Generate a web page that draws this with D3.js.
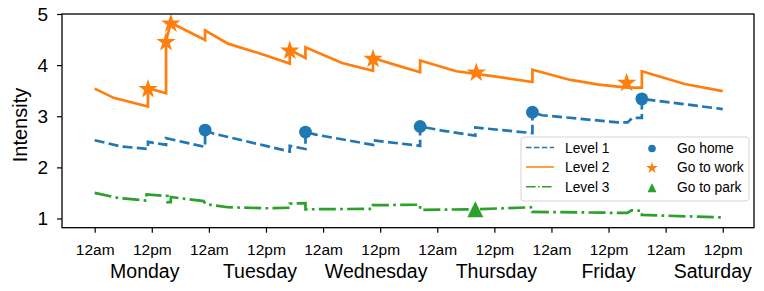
<!DOCTYPE html>
<html>
<head>
<meta charset="utf-8">
<script src="https://cdn.jsdelivr.net/npm/d3@7"></script>
<style>
  body { margin: 0; background: #fff; }
  text { font-family: "Liberation Sans", Arial, sans-serif; fill: #000; }
</style>
</head>
<body>
<svg id="chart" width="764" height="291"></svg>
<script>
// hours since Monday 12am
var level1 = [[0,2.53],[5.5,2.41],[11.2,2.36],[11.2,2.50],[15,2.44],[15,2.57],[23.2,2.40],[23.2,2.73],
  [25,2.66],[36,2.42],[41,2.31],[41,2.42],[44.3,2.36],[44.3,2.69],[46.5,2.64],[58.5,2.44],[58.5,2.53],
  [68.4,2.42],[68.4,2.80],[73,2.72],[80,2.62],[80,2.78],[92,2.67],[92,3.08],[94,3.02],[110,2.88],
  [112,2.88],[113,2.97],[115,2.97],[115,3.34],[117.5,3.31],[132,3.14]];
var level2 = [[0,3.54],[4,3.36],[11.2,3.19],[11.2,3.55],[15,3.45],[15,4.47],[16,4.83],[23.2,4.49],
  [23.2,4.68],[28,4.42],[36,4.19],[41,4.03],[41,4.30],[44.3,4.14],[44.3,4.35],[52,4.04],[58.5,3.89],
  [58.5,4.14],[63,4.01],[68.4,3.86],[68.4,4.09],[76,3.88],[84,3.78],[92,3.67],[92,3.91],[100,3.71],
  [106,3.62],[112,3.56],[115,3.56],[115,3.88],[124,3.63],[132,3.49]];
var level3 = [[0,1.50],[5,1.40],[10.9,1.35],[10.9,1.47],[15.3,1.44],[15.3,1.32],[16,1.32],[16,1.42],
  [22.9,1.34],[23.3,1.28],[28,1.22],[36,1.20],[41,1.21],[41,1.29],[44.3,1.30],[44.3,1.18],[58.5,1.19],
  [58.5,1.26],[68.4,1.27],[68.4,1.17],[80,1.18],[92,1.22],[92,1.13],[110,1.11],[112,1.11],[112.8,1.16],
  [115,1.15],[115,1.07],[132,1.02]];

var goHome = [[23.2,2.73],[44.3,2.69],[68.4,2.80],[92,3.08],[115,3.34]];
var goWork = [[11.2,3.55],[15,4.47],[16,4.83],[41,4.30],[58.5,4.14],[80.2,3.87],[111.8,3.67]];
var goPark = [[80,1.18]];

var tickHours = [0,12,24,36,48,60,72,84,96,108,120,132];
var tickLabels = ["12am","12pm","12am","12pm","12am","12pm","12am","12pm","12am","12pm","12am","12pm"];
var days = ["Monday","Tuesday","Wednesday","Thursday","Friday","Saturday"];
var dayHours = [12,36,60,84,108,132];
var dayShift = [-7,-6,-4,2,0,-10];
var yTicks = [1,2,3,4,5];

var blue = "#1f77b4", orange = "#ff7f0e", green = "#2ca02c";

var svg = d3.select("#chart");
var L = 62, T = 14, R = 754, B = 227.7;

var x = d3.scaleLinear().domain([-6.87, 138.57]).range([L, R]);
var y = d3.scaleLinear().domain([0.82, 5]).range([B, T]);

var line = d3.line().x(function (d) { return x(d[0]); }).y(function (d) { return y(d[1]); });

// axes
var xAxis = svg.append("g").attr("transform", "translate(0," + B + ")")
  .call(d3.axisBottom(x).tickValues(tickHours).tickSize(5).tickPadding(11)
    .tickFormat(function (d, i) { return tickLabels[i]; }));
xAxis.select(".domain").remove();
xAxis.selectAll("text").style("font-size", "15.5px").style("font-family", "Liberation Sans, Arial, sans-serif");
xAxis.selectAll("line").attr("stroke-width", 1.2);

var yAxis = svg.append("g").attr("transform", "translate(" + L + ",0)")
  .call(d3.axisLeft(y).tickValues(yTicks).tickSize(5).tickPadding(9).tickFormat(d3.format("d")));
yAxis.select(".domain").remove();
yAxis.selectAll("text").style("font-size", "19px").style("font-family", "Liberation Sans, Arial, sans-serif");
yAxis.selectAll("line").attr("stroke-width", 1.2);

days.forEach(function (d, i) {
  svg.append("text").attr("x", x(dayHours[i]) + dayShift[i]).attr("y", 278)
    .attr("text-anchor", "middle").style("font-size", "19.5px").text(d);
});

svg.append("text").attr("transform", "translate(27,125) rotate(-90)")
  .attr("text-anchor", "middle").style("font-size", "20px").text("Intensity");

// lines
svg.append("path").datum(level1).attr("d", line).attr("fill", "none")
  .attr("stroke", blue).attr("stroke-width", 2.7).attr("stroke-dasharray", "10,4.3");
svg.append("path").datum(level2).attr("d", line).attr("fill", "none")
  .attr("stroke", orange).attr("stroke-width", 2.7);
svg.append("path").datum(level3).attr("d", line).attr("fill", "none")
  .attr("stroke", green).attr("stroke-width", 2.7).attr("stroke-dasharray", "17,4.3,2.7,4.3");

// markers
var star = d3.symbol().type(d3.symbolStar).size(118);
var tri = function (s) { return "M0," + (-s) + "L" + s + "," + s + "L" + (-s) + "," + s + "Z"; };

svg.selectAll("circle.home").data(goHome).enter().append("circle")
  .attr("cx", function (d) { return x(d[0]); }).attr("cy", function (d) { return y(d[1]); })
  .attr("r", 6.4).attr("fill", blue);
svg.selectAll("path.work").data(goWork).enter().append("path")
  .attr("d", star).attr("fill", orange)
  .attr("transform", function (d) { return "translate(" + x(d[0]) + "," + (y(d[1]) + 1) + ")"; });
svg.selectAll("path.park").data(goPark).enter().append("path")
  .attr("d", tri(8)).attr("fill", green)
  .attr("transform", function (d) { return "translate(" + x(d[0]) + "," + y(d[1]) + ")"; });

// frame
svg.append("rect").attr("x", L).attr("y", T).attr("width", R - L).attr("height", B - T)
  .attr("fill", "none").attr("stroke", "#000").attr("stroke-width", 1.3);

// legend
var lg = svg.append("g");
lg.append("rect").attr("x", 521).attr("y", 137).attr("width", 228).attr("height", 64)
  .attr("rx", 3).attr("fill", "#fff").attr("fill-opacity", 0.8).attr("stroke", "#d5d5d5");
var rows = [147.5, 167, 186.7];
var lineItems = [
  { name: "Level 1", color: blue, dash: "5.5,2.4" },
  { name: "Level 2", color: orange, dash: null },
  { name: "Level 3", color: green, dash: "9.6,2.4,1.5,2.4" }
];
lineItems.forEach(function (it, i) {
  lg.append("line").attr("x1", 526).attr("x2", 554).attr("y1", rows[i]).attr("y2", rows[i])
    .attr("stroke", it.color).attr("stroke-width", 1.5).attr("stroke-dasharray", it.dash);
  lg.append("text").attr("x", 565).attr("y", rows[i] + 5).style("font-size", "13.8px").text(it.name);
});
lg.append("circle").attr("cx", 652).attr("cy", rows[0] + 1).attr("r", 3.8).attr("fill", blue);
lg.append("path").attr("d", d3.symbol().type(d3.symbolStar).size(42)).attr("fill", orange)
  .attr("transform", "translate(652," + (rows[1] + 1) + ")");
lg.append("path").attr("d", tri(4.5)).attr("fill", green)
  .attr("transform", "translate(652," + (rows[2] + 1) + ")");
["Go home", "Go to work", "Go to park"].forEach(function (t, i) {
  lg.append("text").attr("x", 677).attr("y", rows[i] + 5).style("font-size", "13.8px").text(t);
});
</script>
</body>
</html>
